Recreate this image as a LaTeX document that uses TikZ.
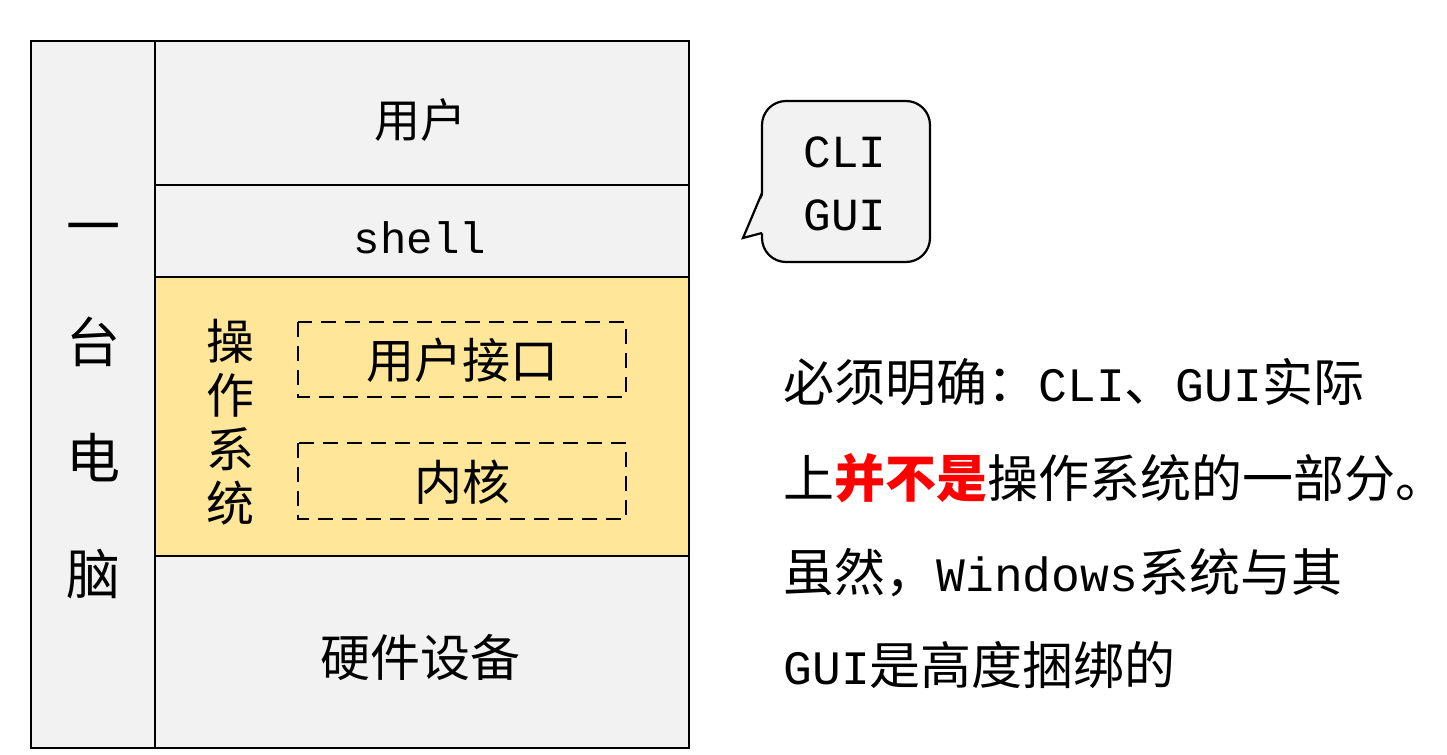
\documentclass[tikz,border=0pt]{standalone}
\usepackage{fontspec}
\setmainfont{Noto Sans CJK SC}
\newfontfamily\latfont{Liberation Mono}
\newcommand{\lat}[1]{{\latfont\fontsize{24}{28}\selectfont #1}}
\usetikzlibrary{calc}

\definecolor{cellgray}{HTML}{F2F2F2}
\definecolor{osyellow}{HTML}{FFE699}

\begin{document}
\begin{tikzpicture}[x=0.5pt, y=-0.5pt,
		layer/.style = {draw, line width=1.2pt, fill=cellgray},
		dashbox/.style = {draw, dash pattern=on 7.5pt off 4.5pt, line width=1.1pt},
		callout/.style = {draw, line width=1.1pt, fill=cellgray},
		label/.style = {inner sep=0pt, font=\fontsize{23}{27}\selectfont},
		note/.style = {inner sep=0pt, anchor=west, font=\fontsize{25.5}{30}\selectfont}]

	\useasboundingbox (0,0) rectangle (1447,755);

	% the layers
	\begin{scope}
		\draw [layer] (31,41) rectangle (155,748);
		\draw [layer] (155,41) rectangle (689,185);
		\draw [layer] (155,185) rectangle (689,277);
		\draw [layer, fill=osyellow] (155,277) rectangle (689,556);
		\draw [layer] (155,556) rectangle (689,748);

		\draw [dashbox] (298,322) rectangle (626,397);
		\draw [dashbox] (298,443) rectangle (626,519);
	\end{scope}

	\node [label, align=center, font=\fontsize{27}{58}\selectfont] (pc) at (93,411) {一\\台\\电\\脑};
	\node [label] (user) at (420,120) {用户};
	\node [label, font=\latfont\fontsize{22}{26}\selectfont] (shell) at (420,238) {shell};
	\node [label, align=center, font=\fontsize{24}{27}\selectfont] (os) at (230,422) {操\\作\\系\\统};
	\node [label, font=\fontsize{24}{27}\selectfont] (ui) at (462,360) {用户接口};
	\node [label, font=\fontsize{24}{27}\selectfont] (kernel) at (462,482) {内核};
	\node [label, font=\fontsize{25}{27}\selectfont] (hw) at (420,657) {硬件设备};

	% speech bubble
	\draw [callout, rounded corners=12pt] (762,101) rectangle (930,262);
	\coordinate (tip) at (743,238);
	\fill [cellgray] (764,193) -- (tip) -- (764,233) -- cycle;
	\draw [line width=1.1pt, line join=miter] (762,193) -- (tip) -- (762,233);
	\node [label, align=center, font=\latfont\fontsize{23}{31.5}\selectfont] (cli) at (845,184) {CLI\\GUI};

	% the remark
	\node [note] (n1) at (783,382) {必须明确：\lat{CLI}、\lat{GUI}实际};
	\node [note] (n2) at (783,478) {上\textcolor{red}{\bfseries 并不是}操作系统的一部分。};
	\node [note] (n3) at (783,573) {虽然，\lat{Windows}系统与其};
	\node [note] (n4) at (783,665) {\lat{GUI}是高度捆绑的};
\end{tikzpicture}
\end{document}
